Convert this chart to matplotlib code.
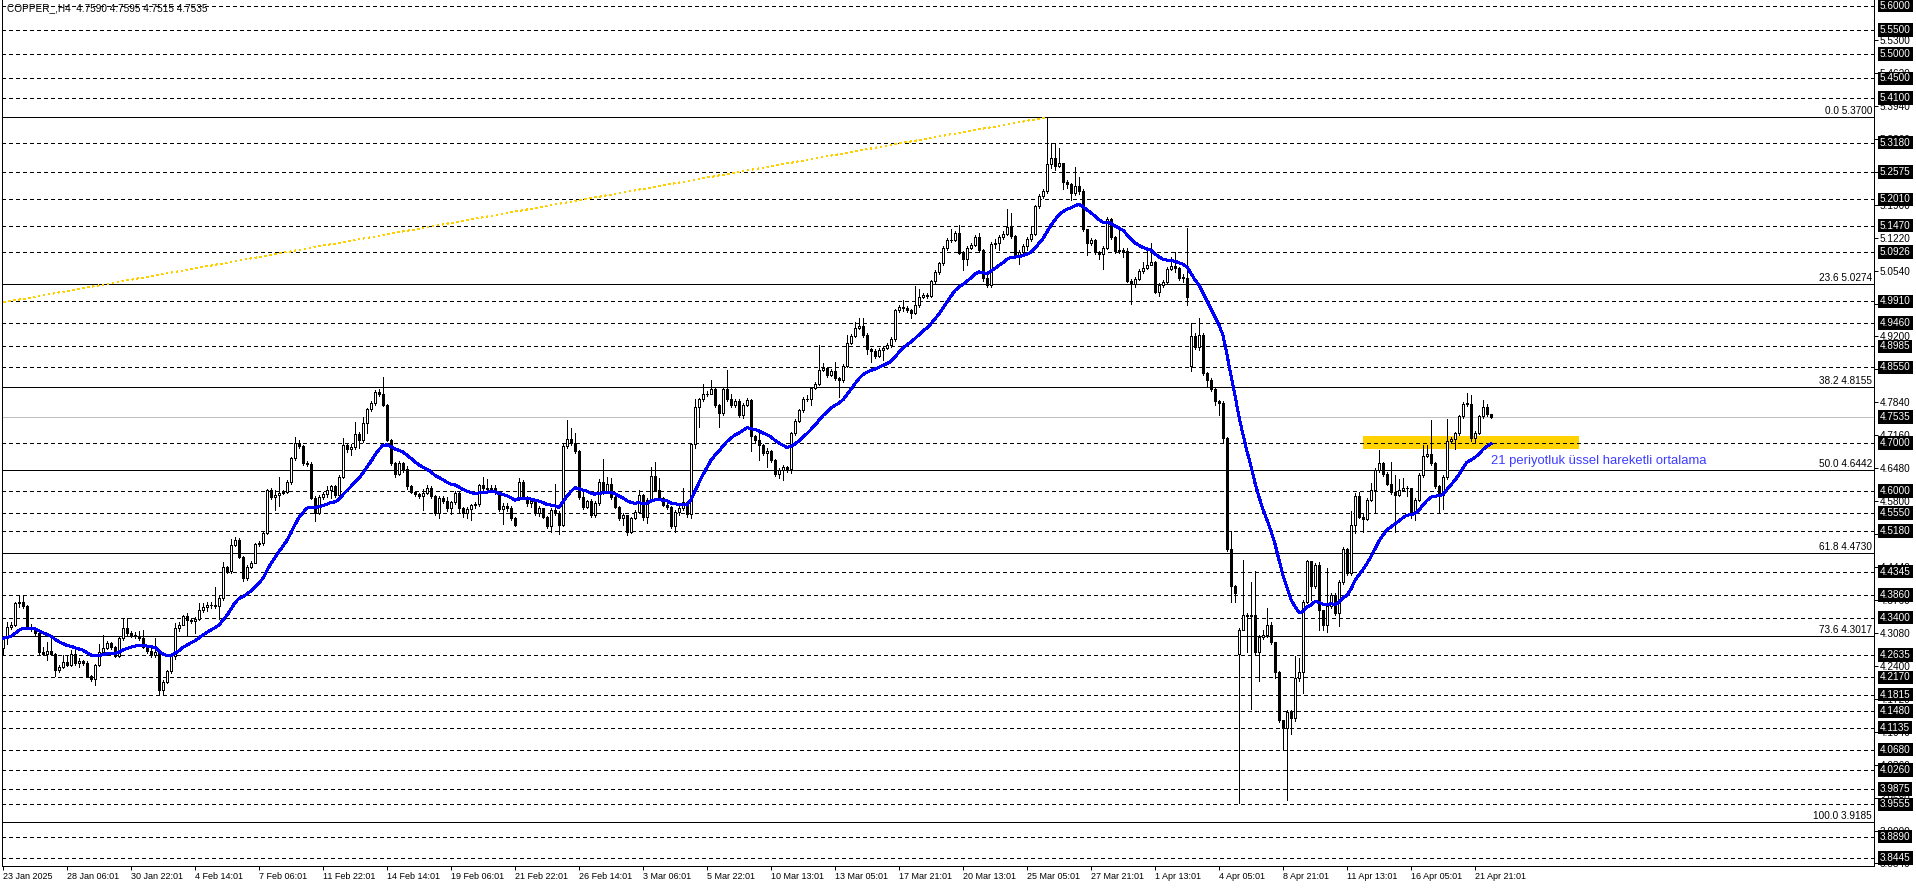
import numpy as np
import pandas as pd
import matplotlib
matplotlib.use("Agg")
import matplotlib.pyplot as plt
from matplotlib.patches import Rectangle
from matplotlib.transforms import blended_transform_factory

W, H, DPI = 1916, 888, 100

# --- data (COPPER_, H4) ---
FIRST_OPEN = 4.277
closes = [
    4.297, 4.321, 4.325, 4.370, 4.372, 4.363, 4.321, 4.316, 4.308, 4.270,
    4.266, 4.272, 4.265, 4.232, 4.239, 4.249, 4.243, 4.266, 4.246, 4.251,
    4.246, 4.220, 4.213, 4.243, 4.270, 4.278, 4.287, 4.279, 4.261, 4.297,
    4.318, 4.308, 4.304, 4.302, 4.297, 4.280, 4.272, 4.262, 4.270, 4.191,
    4.208, 4.229, 4.260, 4.318, 4.325, 4.343, 4.334, 4.332, 4.338, 4.356,
    4.361, 4.365, 4.366, 4.363, 4.380, 4.444, 4.435, 4.490, 4.500, 4.465,
    4.421, 4.445, 4.453, 4.491, 4.494, 4.514, 4.603, 4.588, 4.592, 4.596,
    4.599, 4.620, 4.668, 4.700, 4.693, 4.658, 4.656, 4.587, 4.556, 4.589,
    4.594, 4.603, 4.610, 4.592, 4.630, 4.695, 4.688, 4.692, 4.717, 4.706,
    4.740, 4.769, 4.782, 4.804, 4.801, 4.778, 4.706, 4.658, 4.636, 4.658,
    4.645, 4.610, 4.599, 4.594, 4.590, 4.597, 4.606, 4.590, 4.555, 4.587,
    4.579, 4.565, 4.577, 4.596, 4.565, 4.555, 4.563, 4.571, 4.573, 4.613,
    4.607, 4.604, 4.606, 4.599, 4.563, 4.569, 4.566, 4.545, 4.531, 4.620,
    4.589, 4.575, 4.579, 4.555, 4.566, 4.548, 4.529, 4.562, 4.556, 4.530,
    4.693, 4.707, 4.700, 4.682, 4.589, 4.568, 4.580, 4.551, 4.576, 4.620,
    4.599, 4.616, 4.589, 4.568, 4.544, 4.551, 4.517, 4.545, 4.558, 4.592,
    4.548, 4.583, 4.632, 4.603, 4.586, 4.572, 4.567, 4.529, 4.558, 4.565,
    4.577, 4.553, 4.697, 4.774, 4.789, 4.800, 4.801, 4.810, 4.778, 4.761,
    4.810, 4.789, 4.778, 4.785, 4.757, 4.778, 4.787, 4.713, 4.706, 4.695,
    4.678, 4.682, 4.665, 4.636, 4.643, 4.649, 4.646, 4.719, 4.745, 4.767,
    4.791, 4.789, 4.812, 4.821, 4.850, 4.853, 4.840, 4.847, 4.833, 4.830,
    4.858, 4.905, 4.920, 4.936, 4.940, 4.922, 4.892, 4.888, 4.879, 4.891,
    4.896, 4.901, 4.913, 4.973, 4.979, 4.978, 4.973, 4.968, 4.983, 5.001,
    5.004, 5.003, 5.032, 5.052, 5.069, 5.100, 5.117, 5.117, 5.131, 5.091,
    5.078, 5.101, 5.108, 5.124, 5.096, 5.040, 5.024, 5.110, 5.112, 5.124,
    5.130, 5.144, 5.126, 5.085, 5.092, 5.106, 5.119, 5.130, 5.187, 5.208,
    5.219, 5.273, 5.286, 5.270, 5.275, 5.237, 5.232, 5.214, 5.229, 5.218,
    5.139, 5.112, 5.117, 5.092, 5.088, 5.101, 5.160, 5.124, 5.094, 5.097,
    5.094, 5.033, 5.027, 5.038, 5.053, 5.060, 5.066, 5.072, 5.011, 5.024,
    5.030, 5.058, 5.064, 5.060, 5.040, 5.040, 5.001, 4.920, 4.898, 4.922,
    4.843, 4.830, 4.810, 4.785, 4.782, 4.710, 4.482, 4.405, 4.391, 4.315,
    4.346, 4.343, 4.345, 4.270, 4.301, 4.305, 4.324, 4.290, 4.227, 4.129,
    4.112, 4.146, 4.133, 4.215, 4.227, 4.373, 4.457, 4.404, 4.448, 4.356,
    4.325, 4.363, 4.387, 4.349, 4.414, 4.481, 4.431, 4.531, 4.590, 4.548,
    4.542, 4.583, 4.603, 4.644, 4.658, 4.636, 4.616, 4.599, 4.592, 4.603,
    4.607, 4.606, 4.555, 4.582, 4.634, 4.673, 4.677, 4.658, 4.611, 4.592,
    4.629, 4.704, 4.707, 4.719, 4.754, 4.780, 4.780, 4.709, 4.721, 4.754,
    4.774, 4.759, 4.7535,
]
highs = [
    4.300, 4.330, 4.330, 4.372, 4.385, 4.384, 4.366, 4.326, 4.318, 4.310,
    4.280, 4.290, 4.295, 4.268, 4.242, 4.262, 4.262, 4.273, 4.273, 4.256,
    4.252, 4.250, 4.222, 4.245, 4.286, 4.304, 4.292, 4.290, 4.282, 4.300,
    4.340, 4.340, 4.312, 4.310, 4.312, 4.315, 4.283, 4.280, 4.297, 4.272,
    4.212, 4.232, 4.263, 4.328, 4.330, 4.346, 4.349, 4.340, 4.342, 4.370,
    4.370, 4.372, 4.373, 4.402, 4.385, 4.455, 4.447, 4.502, 4.505, 4.504,
    4.467, 4.448, 4.457, 4.494, 4.498, 4.518, 4.604, 4.606, 4.603, 4.629,
    4.603, 4.623, 4.671, 4.711, 4.706, 4.695, 4.662, 4.660, 4.590, 4.592,
    4.598, 4.611, 4.613, 4.612, 4.633, 4.709, 4.700, 4.698, 4.743, 4.722,
    4.753, 4.772, 4.785, 4.808, 4.810, 4.835, 4.780, 4.708, 4.660, 4.662,
    4.660, 4.652, 4.612, 4.600, 4.596, 4.605, 4.612, 4.610, 4.592, 4.590,
    4.590, 4.588, 4.580, 4.600, 4.598, 4.568, 4.568, 4.574, 4.578, 4.616,
    4.630, 4.625, 4.612, 4.612, 4.600, 4.575, 4.575, 4.570, 4.548, 4.627,
    4.623, 4.590, 4.582, 4.575, 4.570, 4.560, 4.550, 4.565, 4.615, 4.560,
    4.700, 4.747, 4.730, 4.720, 4.685, 4.600, 4.583, 4.585, 4.580, 4.625,
    4.666, 4.630, 4.627, 4.591, 4.570, 4.555, 4.552, 4.548, 4.562, 4.603,
    4.594, 4.587, 4.651, 4.660, 4.627, 4.588, 4.576, 4.570, 4.562, 4.569,
    4.606, 4.580, 4.700, 4.790, 4.792, 4.821, 4.806, 4.830, 4.812, 4.780,
    4.814, 4.850, 4.800, 4.790, 4.789, 4.782, 4.792, 4.790, 4.715, 4.728,
    4.697, 4.690, 4.686, 4.667, 4.647, 4.655, 4.652, 4.722, 4.749, 4.770,
    4.795, 4.798, 4.815, 4.826, 4.901, 4.865, 4.855, 4.851, 4.867, 4.836,
    4.862, 4.922, 4.924, 4.949, 4.956, 4.956, 4.925, 4.895, 4.892, 4.895,
    4.900, 4.905, 4.917, 4.976, 4.983, 4.994, 4.982, 4.975, 5.023, 5.016,
    5.008, 5.008, 5.036, 5.056, 5.073, 5.104, 5.121, 5.141, 5.135, 5.148,
    5.095, 5.104, 5.112, 5.128, 5.132, 5.099, 5.050, 5.114, 5.120, 5.128,
    5.135, 5.182, 5.173, 5.128, 5.096, 5.110, 5.123, 5.146, 5.190, 5.212,
    5.223, 5.370, 5.318, 5.318, 5.307, 5.276, 5.240, 5.235, 5.268, 5.247,
    5.222, 5.140, 5.122, 5.120, 5.095, 5.105, 5.164, 5.162, 5.126, 5.142,
    5.100, 5.100, 5.037, 5.042, 5.057, 5.072, 5.094, 5.112, 5.075, 5.028,
    5.034, 5.062, 5.083, 5.092, 5.062, 5.048, 5.142, 4.946, 4.925, 4.956,
    4.925, 4.846, 4.834, 4.812, 4.788, 4.785, 4.712, 4.518, 4.408, 4.319,
    4.459, 4.350, 4.414, 4.436, 4.305, 4.315, 4.360, 4.330, 4.275, 4.230,
    4.130, 4.150, 4.150, 4.260, 4.256, 4.377, 4.459, 4.440, 4.452, 4.455,
    4.356, 4.442, 4.390, 4.390, 4.418, 4.485, 4.484, 4.560, 4.596, 4.598,
    4.555, 4.587, 4.618, 4.648, 4.685, 4.660, 4.640, 4.661, 4.633, 4.625,
    4.627, 4.610, 4.606, 4.586, 4.638, 4.695, 4.695, 4.747, 4.660, 4.613,
    4.633, 4.748, 4.712, 4.722, 4.758, 4.784, 4.803, 4.798, 4.724, 4.758,
    4.787, 4.780, 4.7595,
]
lows = [
    4.263, 4.285, 4.317, 4.322, 4.362, 4.360, 4.318, 4.312, 4.304, 4.262,
    4.262, 4.253, 4.262, 4.220, 4.228, 4.236, 4.240, 4.240, 4.243, 4.238,
    4.242, 4.218, 4.210, 4.201, 4.240, 4.266, 4.275, 4.276, 4.258, 4.258,
    4.294, 4.305, 4.300, 4.298, 4.294, 4.277, 4.268, 4.258, 4.258, 4.181,
    4.181, 4.205, 4.225, 4.254, 4.312, 4.325, 4.304, 4.328, 4.308, 4.335,
    4.352, 4.354, 4.360, 4.360, 4.338, 4.377, 4.432, 4.432, 4.487, 4.462,
    4.416, 4.418, 4.442, 4.452, 4.487, 4.490, 4.512, 4.585, 4.562, 4.569,
    4.594, 4.597, 4.615, 4.665, 4.690, 4.655, 4.652, 4.584, 4.538, 4.553,
    4.585, 4.589, 4.586, 4.588, 4.590, 4.627, 4.680, 4.675, 4.688, 4.690,
    4.702, 4.719, 4.766, 4.778, 4.796, 4.775, 4.703, 4.655, 4.630, 4.633,
    4.640, 4.605, 4.596, 4.590, 4.586, 4.562, 4.595, 4.586, 4.551, 4.545,
    4.575, 4.560, 4.553, 4.574, 4.555, 4.548, 4.545, 4.540, 4.565, 4.570,
    4.600, 4.598, 4.600, 4.595, 4.560, 4.532, 4.560, 4.540, 4.528, 4.582,
    4.585, 4.570, 4.568, 4.552, 4.550, 4.545, 4.525, 4.517, 4.552, 4.513,
    4.528, 4.690, 4.695, 4.678, 4.585, 4.563, 4.565, 4.547, 4.548, 4.572,
    4.595, 4.596, 4.585, 4.565, 4.540, 4.530, 4.510, 4.515, 4.542, 4.556,
    4.540, 4.534, 4.580, 4.600, 4.583, 4.569, 4.563, 4.525, 4.517, 4.552,
    4.562, 4.548, 4.544, 4.690, 4.733, 4.785, 4.796, 4.800, 4.774, 4.732,
    4.758, 4.786, 4.774, 4.774, 4.752, 4.750, 4.775, 4.682, 4.700, 4.665,
    4.674, 4.651, 4.660, 4.632, 4.627, 4.624, 4.640, 4.637, 4.715, 4.742,
    4.764, 4.785, 4.778, 4.810, 4.818, 4.847, 4.836, 4.838, 4.830, 4.795,
    4.826, 4.855, 4.903, 4.917, 4.934, 4.918, 4.883, 4.867, 4.875, 4.876,
    4.870, 4.893, 4.897, 4.910, 4.970, 4.972, 4.969, 4.956, 4.965, 4.980,
    4.998, 4.998, 5.000, 5.028, 5.048, 5.066, 5.097, 5.113, 5.115, 5.088,
    5.056, 5.065, 5.098, 5.104, 5.092, 5.033, 5.020, 5.020, 5.100, 5.096,
    5.120, 5.128, 5.122, 5.080, 5.068, 5.088, 5.097, 5.115, 5.128, 5.184,
    5.203, 5.215, 5.265, 5.262, 5.268, 5.223, 5.225, 5.200, 5.210, 5.212,
    5.135, 5.087, 5.108, 5.088, 5.078, 5.058, 5.098, 5.120, 5.090, 5.090,
    5.083, 5.030, 4.985, 5.020, 5.036, 5.050, 5.057, 5.065, 5.008, 5.002,
    5.020, 5.028, 5.055, 5.052, 5.036, 5.030, 4.983, 4.848, 4.893, 4.890,
    4.840, 4.815, 4.806, 4.778, 4.758, 4.699, 4.478, 4.373, 4.373, 3.958,
    4.316, 4.270, 4.152, 4.265, 4.210, 4.295, 4.300, 4.285, 4.215, 4.125,
    4.070, 3.964, 4.100, 4.128, 4.210, 4.184, 4.370, 4.376, 4.400, 4.315,
    4.315, 4.311, 4.360, 4.345, 4.323, 4.410, 4.428, 4.428, 4.515, 4.544,
    4.517, 4.540, 4.580, 4.555, 4.640, 4.632, 4.612, 4.595, 4.517, 4.590,
    4.600, 4.590, 4.546, 4.541, 4.580, 4.630, 4.670, 4.655, 4.607, 4.555,
    4.563, 4.625, 4.700, 4.688, 4.716, 4.750, 4.775, 4.704, 4.700, 4.718,
    4.750, 4.755, 4.7515,
]
# bars that opened away from the previous close (weekend / news gaps)
gap_opens = {129: 4.585, 297: 4.857, 309: 4.265}

date_labels = [
    "23 Jan 2025", "28 Jan 06:01", "30 Jan 22:01", "4 Feb 14:01", "7 Feb 06:01",
    "11 Feb 22:01", "14 Feb 14:01", "19 Feb 06:01", "21 Feb 22:01", "26 Feb 14:01",
    "3 Mar 06:01", "5 Mar 22:01", "10 Mar 13:01", "13 Mar 05:01", "17 Mar 21:01",
    "20 Mar 13:01", "25 Mar 05:01", "27 Mar 21:01", "1 Apr 13:01", "4 Apr 05:01",
    "8 Apr 21:01", "11 Apr 13:01", "16 Apr 05:01", "21 Apr 21:01",
]
BARS_PER_LABEL = 16

level_lines = [
    5.6000, 5.5500, 5.5000, 5.4500, 5.4100, 5.3180, 5.2575, 5.2010, 5.1470,
    5.0926, 4.9910, 4.9460, 4.8985, 4.8550, 4.7000, 4.6000, 4.5550, 4.5180,
    4.4345, 4.3860, 4.3400, 4.2635, 4.2170, 4.1815, 4.1480, 4.1135, 4.0680,
    4.0260, 3.9875, 3.9555, 3.8890, 3.8445,
]
scale_ticks = [
    5.5300, 5.4620, 5.3940, 5.3260, 5.2580, 5.1900, 5.1220, 5.0540, 4.9860,
    4.9200, 4.8520, 4.7840, 4.7160, 4.6480, 4.5800, 4.5120, 4.4440, 4.3760,
    4.3080, 4.2400, 4.1720, 4.1040, 4.0360, 3.9680, 3.9000, 3.8340,
]
fib_ratios = ["0.0", "23.6", "38.2", "50.0", "61.8", "73.6", "100.0"]
fib_prices = [5.3700, 5.0274, 4.8155, 4.6442, 4.4730, 4.3017, 3.9185]
fib_anchor_bars = [-733, 261]
fib_anchor_prices = [3.9185, 5.3700]

LAST_PRICE = 4.7535
TITLE = "COPPER_,H4  4.7590 4.7595 4.7515 4.7535"
EMA_NOTE = "21 periyotluk üssel hareketli ortalama"
EMA_PERIOD = 21
zone_bars = (340, 394)
zone_prices = (4.687, 4.714)

# plot area in pixels (left, right, top, bottom) and price at the top/bottom
AX_PX = (2, 1874, 0, 866)
PRICE_AT_PX0 = 5.6115
PX_PER_PRICE = 485.7


def pt(pixels):
    return pixels * 72.0 / DPI


def main():
    plt.rcParams['font.family'] = ['Liberation Sans', 'DejaVu Sans']
    plt.rcParams['lines.antialiased'] = False
    plt.rcParams['patch.antialiased'] = False

    c = np.array(closes)
    hi = np.array(highs)
    lo = np.array(lows)
    n = len(c)
    idx = np.arange(n)
    o = np.r_[FIRST_OPEN, c[:-1]]
    for k, v in gap_opens.items():
        o[k] = v
    hi = np.maximum(hi, np.maximum(o, c))
    lo = np.minimum(lo, np.minimum(o, c))

    fig = plt.figure(figsize=(W / DPI, H / DPI), dpi=DPI)
    fig.patch.set_facecolor('white')
    l, r, t, b = AX_PX
    ax = fig.add_axes([l / W, 1 - b / H, (r - l) / W, (b - t) / H])
    ax.set_xlim((l - 3) / 4.0, (r - 3) / 4.0)
    ax.set_ylim(PRICE_AT_PX0 - b / PX_PER_PRICE, PRICE_AT_PX0 - t / PX_PER_PRICE)

    # highlighted zone
    ax.add_patch(Rectangle((zone_bars[0], zone_prices[0]), zone_bars[1] - zone_bars[0],
                           zone_prices[1] - zone_prices[0], facecolor='#FFD200',
                           edgecolor='none', zorder=1))

    # horizontal lines
    for v in level_lines:
        ax.axhline(v, color='black', lw=pt(1), ls=(0, (4, 3)), zorder=2)
    for v in fib_prices:
        ax.axhline(v, color='black', lw=pt(1), zorder=2)
    ax.axhline(LAST_PRICE, color='#C0C0C0', lw=pt(1), zorder=2)
    ax.plot(fib_anchor_bars, fib_anchor_prices, color='#FFD000', lw=pt(1),
            ls=(0, (2, 4)), zorder=2)

    trans_ax = blended_transform_factory(ax.transAxes, ax.transData)
    for ratio, v in zip(fib_ratios, fib_prices):
        ax.text(0.999, v + 0.002, f"{ratio} {v:.4f}", transform=trans_ax, ha='right',
                va='bottom', fontsize=7.2, color='black', zorder=6)

    # candles
    up = c >= o
    body_lo = np.minimum(o, c)
    body_h = np.maximum(np.abs(c - o), 0.0008)
    ax.vlines(idx, lo, hi, color='black', lw=pt(1), zorder=3)
    ax.bar(idx[up], body_h[up], bottom=body_lo[up], width=0.5, facecolor='white',
           edgecolor='black', lw=pt(1), zorder=4)
    ax.bar(idx[~up], body_h[~up], bottom=body_lo[~up], width=0.5, facecolor='black',
           edgecolor='black', lw=pt(1), zorder=4)

    # 21 period EMA
    ema = pd.Series(c).ewm(span=EMA_PERIOD, adjust=False).mean()
    ax.plot(idx, ema, color='#0000FF', lw=pt(2), zorder=5)
    ax.text(372, 4.662, EMA_NOTE, color='#3C3CFF', fontsize=9.4, ha='left',
            va='center', zorder=6)

    # axes / scales
    for side in ('left', 'right', 'bottom'):
        ax.spines[side].set_linewidth(pt(1))
        ax.spines[side].set_color('black')
    ax.spines['top'].set_visible(False)

    ax.yaxis.tick_right()
    ax.set_yticks(scale_ticks)
    ax.set_yticklabels([f"{v:.4f}" for v in scale_ticks])
    ax.tick_params(axis='y', length=pt(4), width=pt(1), pad=pt(2), labelsize=7.2)

    xt = np.arange(len(date_labels)) * BARS_PER_LABEL
    ax.set_xticks(xt)
    ax.set_xticklabels(date_labels)
    ax.tick_params(axis='x', length=pt(4), width=pt(1), pad=pt(2), labelsize=6.5)
    for lab in ax.get_xticklabels():
        lab.set_horizontalalignment('left')

    trans_fig = blended_transform_factory(fig.transFigure, ax.transData)
    for v in level_lines + [LAST_PRICE]:
        ax.text(1880 / W, v, f"{v:.4f}", transform=trans_fig, ha='left', va='center',
                fontsize=7.2, color='white', clip_on=False, zorder=7,
                bbox=dict(boxstyle='square,pad=0.18', facecolor='black', edgecolor='none'))

    fig.text(7 / W, 1 - 8 / H, TITLE, ha='left', va='center', fontsize=7.2, color='black')

    fig.savefig("out.png", dpi=DPI, facecolor='white')


if __name__ == "__main__":
    main()
